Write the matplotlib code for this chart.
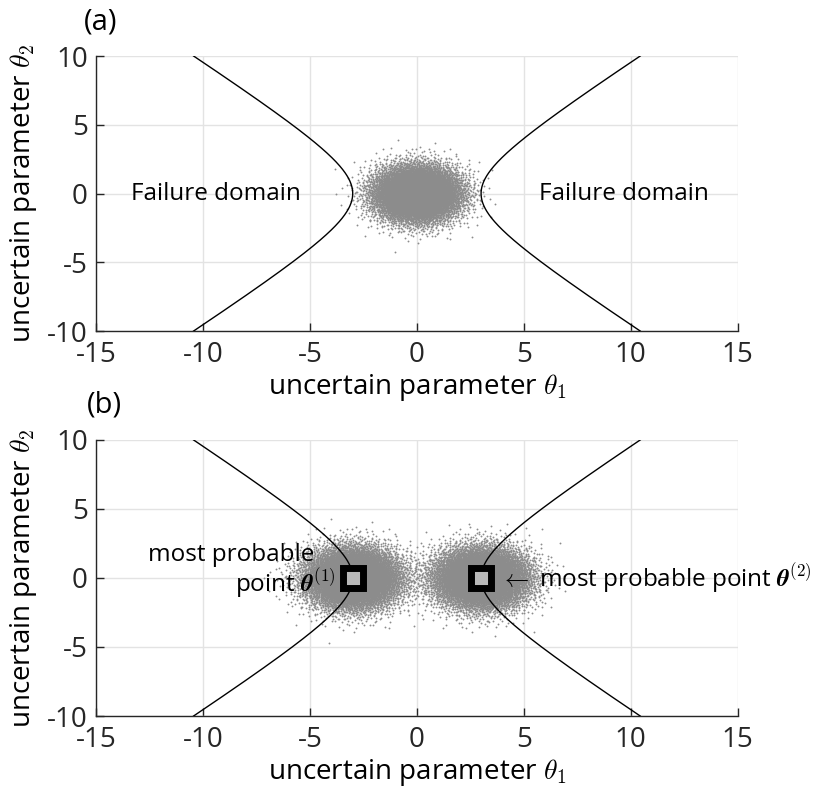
import numpy as np
import matplotlib
matplotlib.use("Agg")
import matplotlib.pyplot as plt

plt.rcParams['font.family'] = ['Open Sans', 'DejaVu Sans']
plt.rcParams['mathtext.fontset'] = 'cm'

# limit-state boundary: theta1^2 - theta2^2 = 9
boundary_a2 = 9.0
boundary_y = np.linspace(-10, 10, 401)

# sample clouds: (centre theta1, centre theta2), std, count
cloud_a_centers = [(0.0, 0.0)]
cloud_a_std = [1.0]
cloud_a_count = [10000]
cloud_b_centers = [(-3.0, 0.0), (3.0, 0.0)]
cloud_b_std = [1.1, 1.1]
cloud_b_count = [10000, 10000]

# most probable points
mpp_theta1 = [-3.0, 3.0]
mpp_theta2 = [0.0, 0.0]

xticks = [-15, -10, -5, 0, 5, 10, 15]
yticks = [-10, -5, 0, 5, 10]


def halton(n, base):
    seq = np.zeros(n)
    for i in range(n):
        f, r, k = 1.0, 0.0, i + 1
        while k > 0:
            f /= base
            r += f * (k % base)
            k //= base
        seq[i] = r
    return seq


def gaussian_cloud(center, std, n, offset):
    u1 = halton(n + offset, 2)[offset:]
    u2 = halton(n + offset, 3)[offset:]
    u1 = np.clip(u1, 1e-9, 1.0)
    r = np.sqrt(-2.0 * np.log(u1)) * std
    t = 2 * np.pi * u2
    return center[0] + r * np.cos(t), center[1] + r * np.sin(t)


fig = plt.figure(figsize=(8.28, 7.91), dpi=100)
ax_a = fig.add_axes([0.116, 0.5815, 0.775, 0.3477])
ax_b = fig.add_axes([0.116, 0.0948, 0.775, 0.349])

fs = 20
fs_note = 17.5
axcol = '#262626'

for ax in (ax_a, ax_b):
    ax.set_xlim(-15, 15)
    ax.set_ylim(-10, 10)
    ax.set_xticks(xticks)
    ax.set_yticks(yticks)
    ax.set_xticklabels([str(v) for v in xticks])
    ax.set_yticklabels([str(v) for v in yticks])
    ax.grid(True, color='#e3e3e3', linewidth=1.0)
    ax.set_axisbelow(True)
    for s in ('top', 'right'):
        ax.spines[s].set_visible(False)
    for s in ('left', 'bottom'):
        ax.spines[s].set_color(axcol)
        ax.spines[s].set_linewidth(1.0)
    ax.tick_params(direction='in', length=6, width=1.0, colors=axcol,
                   labelsize=fs)
    ax.tick_params(axis='x', pad=7)
    ax.tick_params(axis='y', pad=6)
    ax.set_xlabel(r'uncertain parameter $\theta_1$', fontsize=fs, labelpad=2)
    ax.set_ylabel(r'uncertain parameter $\theta_2$', fontsize=fs, labelpad=6)
    bx = np.sqrt(boundary_a2 + boundary_y ** 2)
    ax.plot(bx, boundary_y, color='black', lw=1.0, zorder=3)
    ax.plot(-bx, boundary_y, color='black', lw=1.0, zorder=3)

# panel (a): standard normal samples
for c, s, n in zip(cloud_a_centers, cloud_a_std, cloud_a_count):
    x, y = gaussian_cloud(c, s, n, 20)
    ax_a.scatter(x, y, s=1.8, color='#8c8c8c', linewidths=0, zorder=2)
ax_a.text(-9.4, 0, 'Failure domain', fontsize=fs_note, ha='center', va='center')
ax_a.text(9.7, 0, 'Failure domain', fontsize=fs_note, ha='center', va='center')
ax_a.text(-14.8, 12.5, '(a)', fontsize=fs + 1, ha='center', va='center',
          clip_on=False)

# panel (b): samples around the most probable points
for k, (c, s, n) in enumerate(zip(cloud_b_centers, cloud_b_std, cloud_b_count)):
    x, y = gaussian_cloud(c, s, n, 50 + 12000 * k)
    ax_b.scatter(x, y, s=1.8, color='#8c8c8c', linewidths=0, zorder=2, clip_on=True)
ax_b.plot(mpp_theta1, mpp_theta2, 's', markersize=15, markeredgewidth=5,
          markeredgecolor='black', markerfacecolor='#b8b8b8', zorder=4)
ax_b.text(-4.8, 1.7, 'most probable', fontsize=fs_note, ha='right', va='center',
          zorder=5)
ax_b.text(-3.8, -0.4, r'point $\boldsymbol{\theta}^{(1)}$', fontsize=fs_note,
          ha='right', va='center', zorder=5)
ax_b.text(3.9, 0, r'$\leftarrow$ most probable point $\boldsymbol{\theta}^{(2)}$',
          fontsize=fs_note, ha='left', va='center', clip_on=False, zorder=5)
ax_b.text(-14.6, 12.5, '(b)', fontsize=fs + 1, ha='center', va='center',
          clip_on=False)

fig.savefig('out.png', dpi=100)
